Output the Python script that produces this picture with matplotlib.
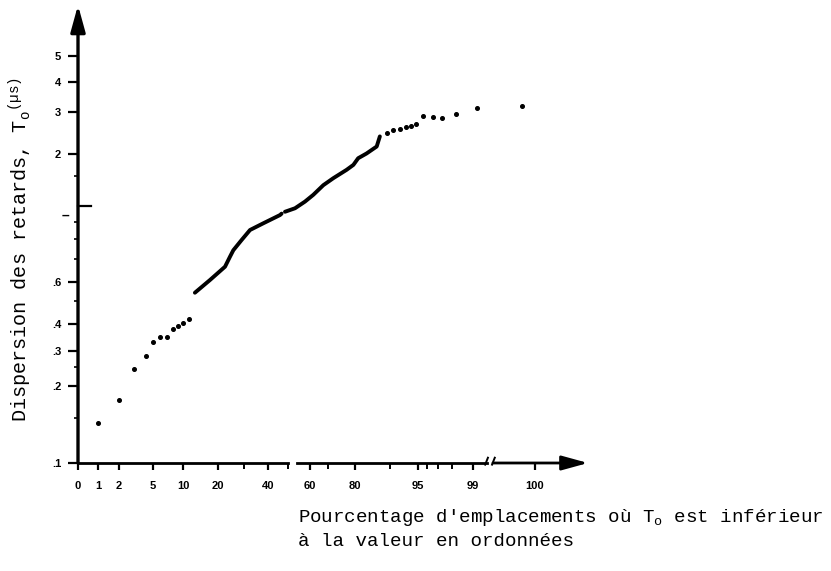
import numpy as np
import matplotlib
matplotlib.use('Agg')
from matplotlib import pyplot as plt

# values
dot_pct_low = [1.0, 2.0, 3.3, 4.4, 5.0, 6.2, 7.3, 8.3, 9.1, 10.0, 11.8]
dot_val_low = [0.143, 0.176, 0.244, 0.283, 0.331, 0.349, 0.348, 0.380, 0.392, 0.404, 0.419]

curve1_pct = [13.4, 17.7, 22.7, 24.6, 25.9, 29.1, 32.5, 38.0, 46.0, 46.8]
curve1_val = [0.541, 0.608, 0.665, 0.711, 0.743, 0.796, 0.851, 0.890, 0.941, 0.950]

curve2_pct = [48.5, 53.2, 57.7, 61.8, 67.4, 72.0, 76.9, 79.4, 80.9, 83.3, 86.2, 87.1]
curve2_val = [0.962, 0.985, 1.06, 1.16, 1.32, 1.45, 1.62, 1.73, 1.89, 2.01, 2.15, 2.37]

dot_pct_high = [89.1, 90.6, 91.8, 92.9, 93.8, 94.7, 95.5, 96.5, 97.3, 98.2, 99.06, 99.79]
dot_val_high = [2.46, 2.51, 2.55, 2.59, 2.62, 2.67, 2.88, 2.85, 2.83, 2.95, 3.12, 3.18]

x_ticks = [0, 1, 2, 5, 10, 20, 40, 60, 80, 95, 99, 100]
x_ticklabels = ['0', '1', '2', '5', '10', '20', '40', '60', '80', '95', '99', '100']
y_ticks = [0.1, 0.2, 0.3, 0.4, 0.6, 2, 3, 4, 5]
y_ticklabels = ['.1', '.2', '.3', '.4', '.6', '2', '3', '4', '5']

# hand drawn axes: scale anchors (percent / value -> pixel position)
X_PCT = [0, 1, 2, 5, 10, 20, 30, 40, 50, 60, 70, 80, 90, 95, 96, 97, 98, 99, 100]
X_POS = [78, 98, 119, 153, 183, 218, 244, 268, 288, 310, 328, 355, 390, 418, 427, 438, 452, 473, 535]
Y_LOG = list(np.log10([0.1, 0.2, 0.3, 0.4, 0.6, 1, 2, 3, 4, 5]))
Y_POS = [463 - p for p in [463, 386, 351, 324, 282, 206, 154, 112, 82, 56]]


def x_fwd(v):
    return np.interp(v, X_PCT, X_POS)


def x_inv(p):
    return np.interp(p, X_POS, X_PCT)


def y_fwd(v):
    return np.interp(np.log10(np.clip(v, 1e-3, None)), Y_LOG, Y_POS)


def y_inv(p):
    return 10 ** np.interp(p, Y_POS, Y_LOG)


W, H = 831, 571
fig = plt.figure(figsize=(W / 100, H / 100), dpi=100)
ax = fig.add_axes([78 / W, (H - 463) / H, (535 - 78) / W, (463 - 56) / H])
ax.set_xscale('function', functions=(x_fwd, x_inv))
ax.set_yscale('function', functions=(y_fwd, y_inv))
ax.set_xlim(0, 100)
ax.set_ylim(0.1, 5)

for s in ax.spines.values():
    s.set_visible(False)

ax.plot(dot_pct_low, dot_val_low, 'o', color='black', ms=2.6, clip_on=False)
ax.plot(curve1_pct, curve1_val, '-', color='black', lw=2.8, solid_capstyle='round')
ax.plot(curve2_pct, curve2_val, '-', color='black', lw=2.8, solid_capstyle='round')
ax.plot(dot_pct_high, dot_val_high, 'o', color='black', ms=2.6, clip_on=False)

tick_font = dict(family='Liberation Sans', weight='bold', size=8)
ax.set_xticks(x_ticks)
ax.set_xticklabels(x_ticklabels, **tick_font)
ax.set_xticks([30, 50, 70, 90, 96, 97, 98], minor=True)
ax.tick_params(axis='x', which='major', direction='out', length=5, width=1.6, pad=8)
ax.tick_params(axis='x', which='minor', direction='out', length=4, width=1.4)

ax.set_yticks(y_ticks)
ax.set_yticklabels(y_ticklabels, **tick_font)
ax.set_yticks([0.15, 0.25, 0.5, 0.7, 0.8, 0.9, 1.5], minor=True)
ax.yaxis.set_minor_formatter(plt.NullFormatter())
ax.xaxis.set_minor_formatter(plt.NullFormatter())
ax.tick_params(axis='y', which='major', direction='out', length=7, width=1.6, pad=5)
ax.tick_params(axis='y', which='minor', direction='out', length=3, width=1.2)

# the "1" tick points inward, its label is a dash
ytr = ax.get_yaxis_transform()
ax.plot([0, 0.028], [1, 1], color='black', lw=1.6, transform=ytr, clip_on=False)
ax.text(-0.02, 0.985, '–', transform=ytr, ha='right', va='top',
        family='Liberation Sans', weight='bold', size=10)

# axis lines with arrows and breaks
line_kw = dict(color='black', transform=ax.transAxes, clip_on=False)
ax.plot([0, 0.4595], [0, 0], lw=2, **line_kw)
ax.plot([0.479, 0.895], [0, 0], lw=2, **line_kw)
ax.plot([0.891, 0.897], [-0.004, 0.013], lw=1.4, **line_kw)
ax.plot([0.906, 0.912], [-0.004, 0.013], lw=1.4, **line_kw)
arrow_kw = dict(arrowstyle='-|>,head_length=0.8,head_width=0.22', color='black',
                shrinkA=0, shrinkB=0, mutation_scale=20)
ax.annotate('', xy=(1.116, 0), xytext=(0.908, 0), xycoords='axes fraction',
            arrowprops=dict(lw=2, **arrow_kw))
ax.annotate('', xy=(0, 1.125), xytext=(0, 0), xycoords='axes fraction',
            arrowprops=dict(lw=2.4, **arrow_kw))

fig.text(20 / W, 1 - 250 / H, r'Dispersion des retards, $\mathregular{T_o{}^{(µs)}}$',
         rotation=90, ha='center', va='center', family='Liberation Mono', size=14.5)
cap_font = dict(family='Liberation Mono', size=13.8)
fig.text(298 / W, 1 - 518 / H, r"Pourcentage d'emplacements où $\mathregular{T_o}$ est inférieur",
         ha='left', va='center', **cap_font)
fig.text(298 / W, 1 - 542 / H, 'à la valeur en ordonnées',
         ha='left', va='center', **cap_font)

fig.savefig('out.png', dpi=100)
